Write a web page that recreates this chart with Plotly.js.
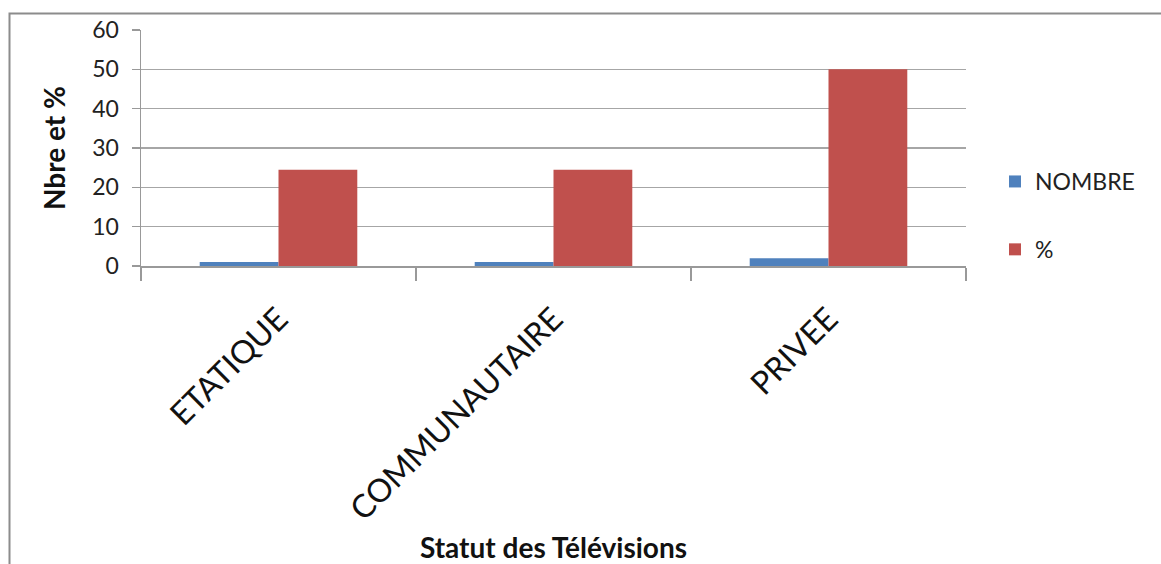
<!DOCTYPE html>
<html>
<head>
<meta charset="utf-8">
<script src="https://cdn.plot.ly/plotly-3.0.1.min.js"></script>
<style>
  html, body { margin: 0; padding: 0; background: #fff; }
  #chart { width: 1161px; height: 564px; }
</style>
</head>
<body>
<div id="chart"></div>
<script>
const categories = ["ETATIQUE", "COMMUNAUTAIRE", "PRIVEE"];
const nombreValues = [1, 1, 2];
const pctValues = [24.5, 24.5, 50];
const seriesNames = ["NOMBRE", "%"];
const yTickValues = [0, 10, 20, 30, 40, 50, 60];

const FONT = "Lato, 'Open Sans', 'DejaVu Sans', sans-serif";
const L = 141, R = 966, T = 30, B = 266, W = 1161, H = 564;
const px = x => (x - L) / (R - L);
const py = y => (B - y) / (B - T);

const traces = [
  { type: "bar", name: seriesNames[0], x: categories, y: nombreValues, legendgroup: "g1",
    marker: { color: "#4f81bd" } },
  { type: "bar", name: seriesNames[1], x: categories, y: pctValues, legendgroup: "g2",
    marker: { color: "#c0504d" } }
];

const layout = {
  width: W, height: H,
  margin: { l: L, r: W - R, t: T, b: H - B, pad: 0 },
  paper_bgcolor: "#fff", plot_bgcolor: "#fff",
  font: { family: FONT, color: "#222" },
  barmode: "group", bargap: 0.427, bargroupgap: 0,
  showlegend: true,
  legend: {
    x: px(995), y: py(160), xanchor: "left", yanchor: "top",
    font: { family: FONT, size: 23, color: "#222" },
    tracegroupgap: 35, itemwidth: 30, bgcolor: "rgba(0,0,0,0)"
  },
  xaxis: {
    type: "category",
    tickangle: -45,
    tickfont: { family: FONT, size: 32, color: "#111" },
    ticks: "outside", ticklen: 13, tickcolor: "#999", tickwidth: 1.5,
    tickson: "boundaries",
    ticklabelstandoff: 20,
    showline: true, linecolor: "#999", linewidth: 1.5,
    showgrid: false, zeroline: false,
    title: { text: "<b>Statut des Télévisions</b>", font: { family: FONT, size: 28, color: "#111" }, standoff: 22 },
    automargin: false
  },
  yaxis: {
    range: [0, 60],
    tickvals: yTickValues,
    tickfont: { family: FONT, size: 23, color: "#222" },
    ticks: "outside", ticklen: 8, tickcolor: "#999", tickwidth: 1.5,
    ticklabelstandoff: 8,
    showline: true, linecolor: "#999", linewidth: 1.5,
    showgrid: true, gridcolor: "#a6a6a6", gridwidth: 1.5,
    zeroline: false,
    title: { text: "<b>Nbre et %</b>", font: { family: FONT, size: 28, color: "#111" }, standoff: 18 },
    automargin: false
  },
  shapes: [
    { type: "rect", xref: "paper", yref: "paper",
      x0: px(9.5), x1: px(1175), y0: py(600), y1: py(13.5),
      line: { color: "#8c8c8c", width: 2 }, fillcolor: "rgba(0,0,0,0)", layer: "below" }
  ]
};

Plotly.newPlot("chart", traces, layout, { staticPlot: true, displayModeBar: false });
</script>
</body>
</html>
